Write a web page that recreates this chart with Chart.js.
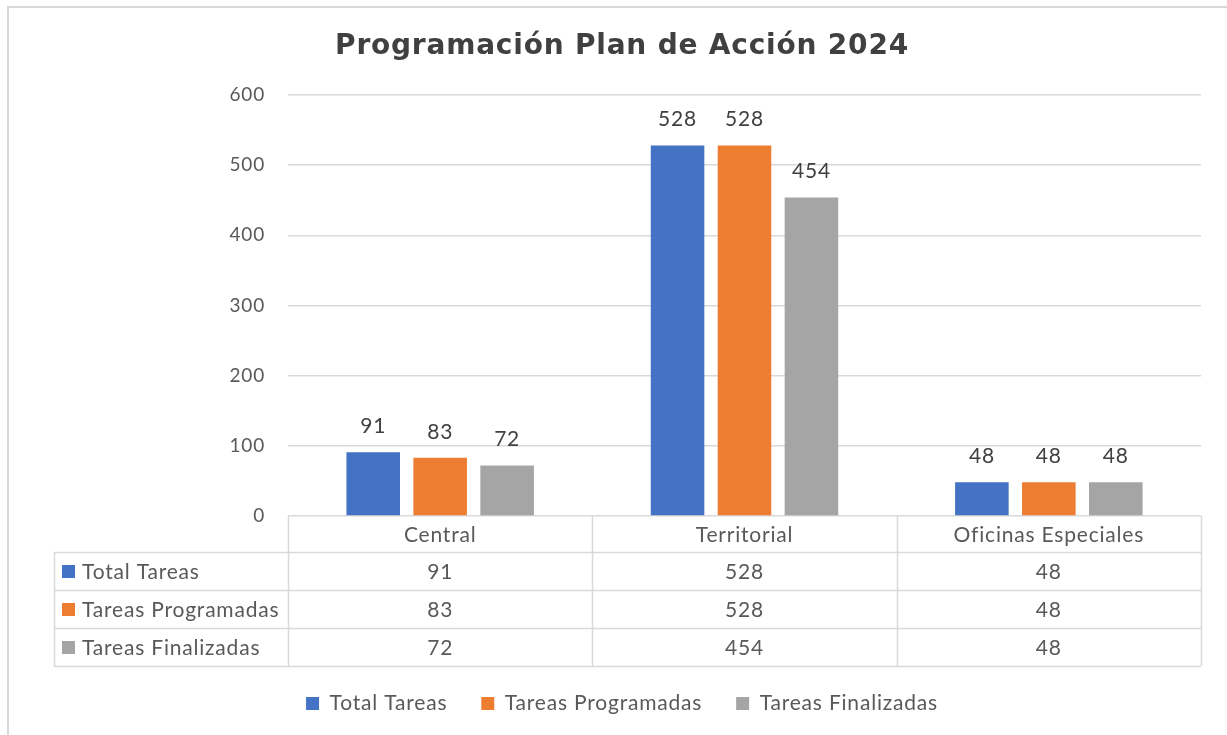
<!DOCTYPE html>
<html>
<head>
<meta charset="utf-8">
<script src="https://cdn.jsdelivr.net/npm/chart.js@4.4.1/dist/chart.umd.min.js"></script>
<style>
html,body{margin:0;padding:0;background:#fff;}
#wrap{width:1227px;height:735px;position:relative;}
canvas{display:block;}
</style>
</head>
<body>
<div id="wrap"><canvas id="c" width="1227" height="735"></canvas></div>
<script>
const titleText = 'Programación Plan de Acción 2024';
const categories = ['Central', 'Territorial', 'Oficinas Especiales'];
const seriesNames = ['Total Tareas', 'Tareas Programadas', 'Tareas Finalizadas'];
const totalTareas = [91, 528, 48];
const tareasProgramadas = [83, 528, 48];
const tareasFinalizadas = [72, 454, 48];
const seriesColors = ['#4472C4', '#ED7D31', '#A5A5A5'];
const yTicks = [0, 100, 200, 300, 400, 500, 600];

const FONT = 'Lato, "Open Sans", sans-serif';
const TITLE_FONT = '"DejaVu Sans", Verdana, sans-serif';
const TEXT = '#595959';
const LINE = '#D9D9D9';
const SPACING = '0.8px';
const TABLE = {left: 54, header: 36, row: 38};

const spacingPlugin = {
  id: 'spacingPlugin',
  beforeLayout(chart) { chart.ctx.letterSpacing = SPACING; },
  beforeDraw(chart) { chart.ctx.letterSpacing = SPACING; }
};

const tablePlugin = {
  id: 'tablePlugin',
  afterDraw(chart) {
    const ctx = chart.ctx;
    const area = chart.chartArea;
    const xs = chart.scales.x;
    const n = categories.length;
    const colW = (area.right - area.left) / n;
    const bounds = [];
    for (let i = 0; i <= n; i++) bounds.push(area.left + i * colW);
    const top = area.bottom;
    const r0 = top + TABLE.header;
    const bottom = r0 + TABLE.row * seriesNames.length;
    ctx.save();
    ctx.letterSpacing = SPACING;
    // frame
    ctx.strokeStyle = LINE; ctx.lineWidth = 2;
    ctx.beginPath(); ctx.moveTo(8, chart.height); ctx.lineTo(8, 7); ctx.lineTo(chart.width, 7); ctx.stroke();
    ctx.lineWidth = 1.5;
    ctx.beginPath();
    bounds.forEach(x => { ctx.moveTo(Math.round(x)+0.5, top); ctx.lineTo(Math.round(x)+0.5, bottom); });
    ctx.moveTo(TABLE.left + 0.5, r0); ctx.lineTo(TABLE.left + 0.5, bottom);
    for (let r = 0; r <= seriesNames.length; r++) {
      const y = Math.round(r0 + r * TABLE.row) + 0.5;
      ctx.moveTo(TABLE.left, y); ctx.lineTo(area.right, y);
    }
    ctx.stroke();
    // header
    ctx.fillStyle = TEXT;
    ctx.font = '21px ' + FONT;
    ctx.textAlign = 'center'; ctx.textBaseline = 'middle';
    categories.forEach((c, i) => {
      ctx.fillText(c, xs.getPixelForValue(i), top + TABLE.header / 2 + 1);
    });
    // rows
    chart.data.datasets.forEach((ds, r) => {
      const cy = r0 + r * TABLE.row + TABLE.row / 2 + 1;
      ctx.fillStyle = ds.backgroundColor;
      ctx.fillRect(TABLE.left + 8, cy - 7, 13, 13);
      ctx.fillStyle = TEXT;
      ctx.textAlign = 'left';
      ctx.fillText(ds.label, TABLE.left + 28, cy);
      ctx.textAlign = 'center';
      ds.data.forEach((v, i) => ctx.fillText(String(v), xs.getPixelForValue(i), cy));
    });
    // data labels
    ctx.fillStyle = '#404040';
    ctx.font = '21px ' + FONT;
    chart.data.datasets.forEach((ds, d) => {
      chart.getDatasetMeta(d).data.forEach((bar, i) => {
        ctx.fillText(String(ds.data[i]), bar.x, bar.y - 26);
      });
    });
    ctx.restore();
  }
};

const seriesData = [totalTareas, tareasProgramadas, tareasFinalizadas];

new Chart(document.getElementById('c'), {
  type: 'bar',
  data: {
    labels: categories,
    datasets: seriesNames.map((name, i) => ({
      label: name,
      data: seriesData[i],
      backgroundColor: seriesColors[i],
      borderWidth: 0,
      categoryPercentage: 0.66,
      barPercentage: 0.8
    }))
  },
  options: {
    responsive: false,
    animation: false,
    devicePixelRatio: 1,
    layout: {padding: {left: 43, right: 26, top: 10, bottom: 11}},
    plugins: {
      title: {
        display: true, text: titleText, color: '#404040',
        font: {family: TITLE_FONT, size: 28, weight: 'bold'},
        padding: {top: 20, bottom: 31.4}
      },
      legend: {
        position: 'bottom',
        labels: {
          color: TEXT, font: {family: FONT, size: 21},
          boxWidth: 13, boxHeight: 13, padding: 34
        }
      },
      tooltip: {enabled: false}
    },
    scales: {
      y: {
        min: 0, max: 600,
        afterFit(s) { s.width = 245; },
        afterBuildTicks(s) { s.ticks = yTicks.map(v => ({value: v})); },
        ticks: {color: TEXT, font: {family: FONT, size: 19}, padding: 23},
        grid: {color: LINE, lineWidth: 1.5, drawTicks: false},
        border: {display: false}
      },
      x: {
        afterFit(s) { s.height = 143; },
        ticks: {display: false},
        grid: {display: false},
        border: {display: false}
      }
    }
  },
  plugins: [spacingPlugin, tablePlugin]
});
</script>
</body>
</html>
